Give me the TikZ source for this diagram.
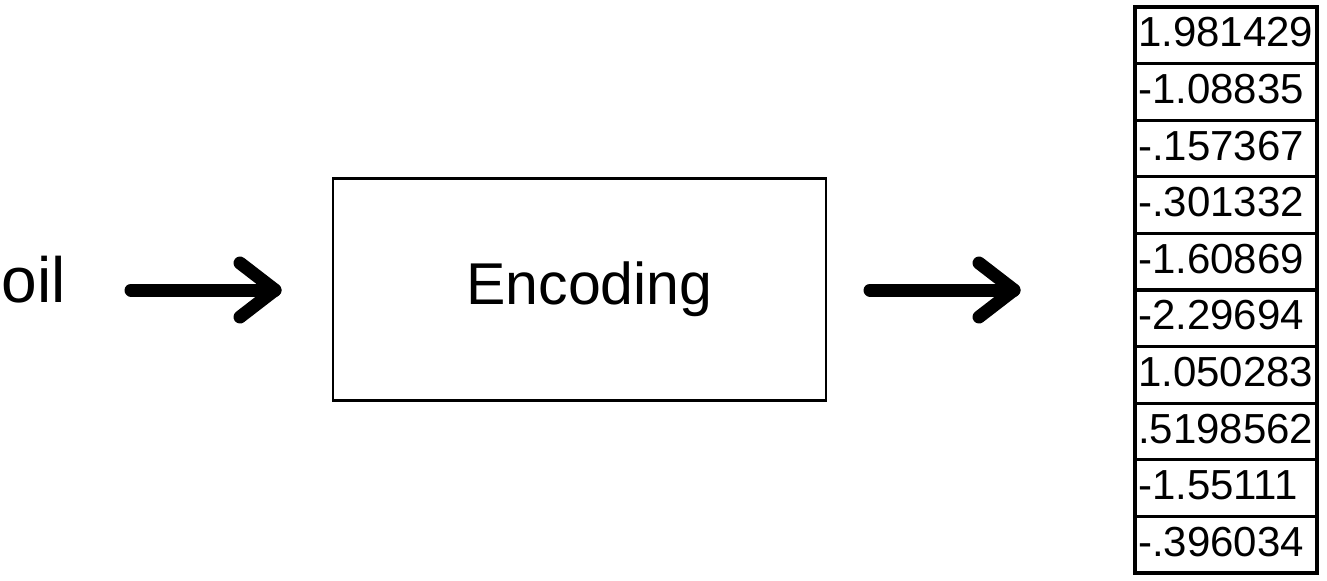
\documentclass[tikz,border=0pt]{standalone}
\usepackage{fontspec}
\setmainfont{Liberation Sans}
\usetikzlibrary{calc}
\begin{document}
\begin{tikzpicture}[x=0.5pt,y=-0.5pt,
  bigtext/.style={font=\fontsize{29.5}{32}\selectfont},
  encbox/.style={draw,line width=1.4pt,minimum width=246.5pt,minimum height=111pt,inner sep=0pt,bigtext},
  cell/.style={draw,line width=1.6pt,minimum width=91pt,minimum height=28.3pt,text width=88pt,inner xsep=1.5pt,inner ysep=0pt,align=left,font=\fontsize{21}{24}\selectfont,text height=11.5pt,text depth=0pt},
  thickarrow/.style={line width=6.5pt,line cap=round,line join=round}]
\useasboundingbox (0,0) rectangle (1327,580);
\node[font=\fontsize{32}{34}\selectfont,anchor=base,inner sep=0pt] (oil) at (34,302) {oil};
\node[encbox] (enc) at (579.5,289.5) {\hspace*{10pt}Encoding};
\foreach \v [count=\i from 0] in {1.981429,-1.08835,-.157367,-.301332,-1.60869,-2.29694,1.050283,.5198562,-1.55111,-.396034}{
  \node[cell] (c\i) at (1226,{35.3+56.6*\i}) {\v};
}
\coordinate (a1s) at (131,290);
\coordinate (a1e) at (275,290);
\coordinate (a2s) at (870,290);
\coordinate (a2e) at (1014,290);
\draw[thickarrow] (a1s) -- (a1e);
\draw[thickarrow] ($(a1e)+(-35,-27)$) -- (a1e) -- ($(a1e)+(-35,27)$);
\draw[thickarrow] (a2s) -- (a2e);
\draw[thickarrow] ($(a2e)+(-35,-27)$) -- (a2e) -- ($(a2e)+(-35,27)$);
\end{tikzpicture}
\end{document}
